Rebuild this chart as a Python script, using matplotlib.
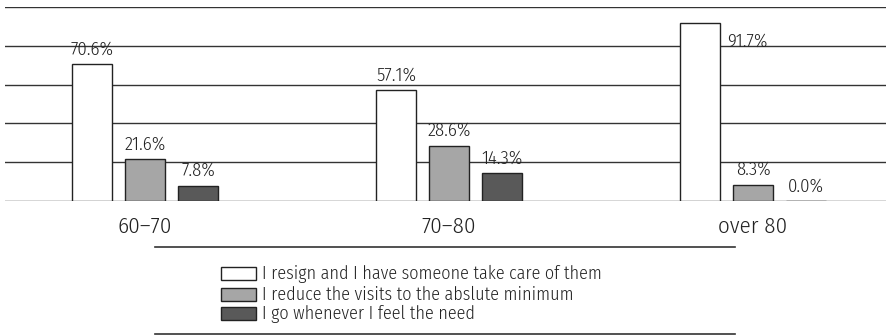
import matplotlib
matplotlib.use("Agg")
import matplotlib.pyplot as plt
from matplotlib.patches import Rectangle
import numpy as np

plt.rcParams['font.family'] = ['Fira Sans Condensed', 'Lato', 'DejaVu Sans']
plt.rcParams['font.weight'] = 350

categories = ["60–70", "70–80", "over 80"]
series_names = [
    "I resign and I have someone take care of them",
    "I reduce the visits to the abslute minimum",
    "I go whenever I feel the need",
]
resign = [70.6, 57.1, 91.7]
reduce_visits = [21.6, 28.6, 8.3]
go_when_needed = [7.8, 14.3, 0.0]
values = [resign, reduce_visits, go_when_needed]
colors = ["#ffffff", "#a6a6a6", "#595959"]
text_color = "#222222"

W, H = 886, 335
fig = plt.figure(figsize=(W / 100, H / 100), dpi=100)

# axes in pixel coords
ax_left, ax_right, ax_top, ax_bottom = 5, 886, 7, 201
ax = fig.add_axes([ax_left / W, (H - ax_bottom) / H,
                   (ax_right - ax_left) / W, (ax_bottom - ax_top) / H])
ax.set_ylim(0, 100)
unit = 304.0
c0 = 145.0
ax.set_xlim((ax_left - c0) / unit, (ax_right - c0) / unit)

bw = 40 / unit
step = 53 / unit
x = np.arange(len(categories))
for i, (vals, col) in enumerate(zip(values, colors)):
    xs = x + (i - 1) * step
    ax.bar(xs, vals, width=bw, color=col, edgecolor="#222222", linewidth=1.0, zorder=3)
    for xi, v in zip(xs, vals):
        if v > 85:
            ax.annotate(f"{v:.1f}%", (xi + bw / 2, v), xytext=(5, -17),
                        textcoords="offset points", ha="left", va="baseline",
                        fontsize=13.5, color=text_color, zorder=4)
        else:
            ax.annotate(f"{v:.1f}%", (xi, v), xytext=(0, 7),
                        textcoords="offset points", ha="center", va="baseline",
                        fontsize=13.5, color=text_color, zorder=4)

ax.set_yticks([0, 20, 40, 60, 80, 100])
ax.yaxis.grid(True, color="#333333", linewidth=1.0, zorder=0)
ax.set_axisbelow(True)
ax.tick_params(axis="y", left=False, labelleft=False)
ax.tick_params(axis="x", bottom=False, labelsize=16.5, labelcolor=text_color, pad=7)
ax.set_xticks(x)
ax.set_xticklabels(categories)
for s in ax.spines.values():
    s.set_visible(False)

# legend block
lx0, lx1 = 155 / W, 735 / W
fig.add_artist(plt.Line2D([lx0, lx1], [(H - 247) / H] * 2, color="#333333", linewidth=1.2))
fig.add_artist(plt.Line2D([lx0, lx1], [(H - 334) / H] * 2, color="#333333", linewidth=1.2))
row_centers = [273.5, 294.5, 313.5]
for name, col, yc in zip(series_names, colors, row_centers):
    fig.add_artist(Rectangle((221 / W, (H - yc - 6.5) / H), 35 / W, 13 / H,
                             facecolor=col, edgecolor="#222222", linewidth=1.0,
                             transform=fig.transFigure))
    fig.text(262 / W, (H - yc) / H, name, ha="left", va="center",
             fontsize=13, color=text_color)

fig.savefig("out.png", dpi=100)
